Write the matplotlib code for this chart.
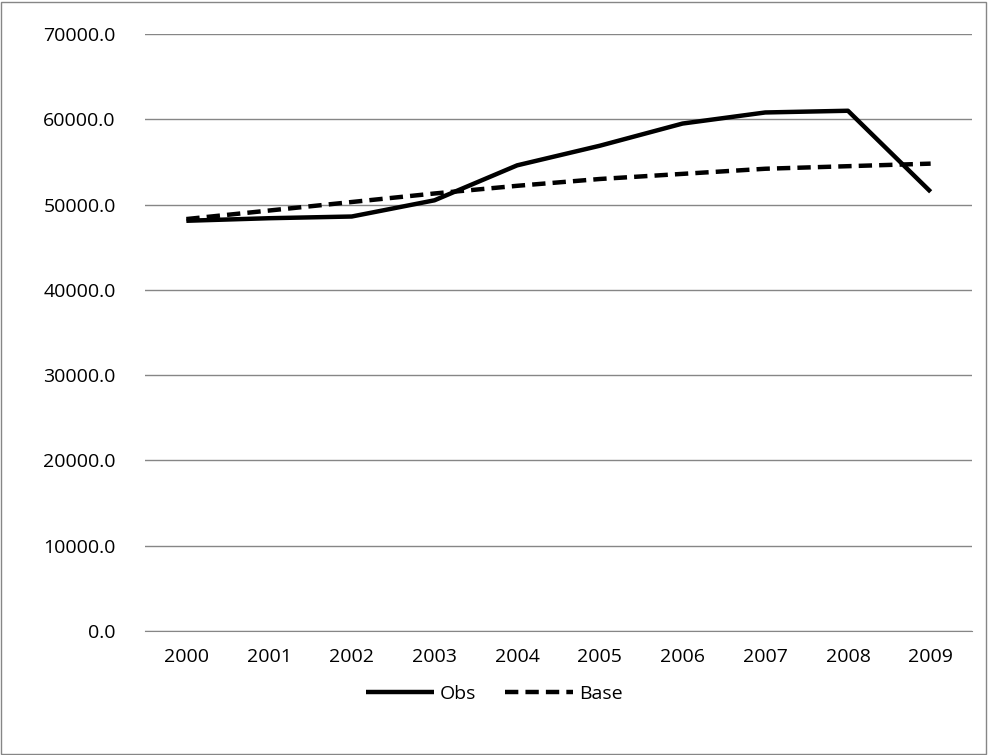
import matplotlib.pyplot as plt
from matplotlib.patches import Rectangle

years = ["2000", "2001", "2002", "2003", "2004", "2005", "2006", "2007", "2008", "2009"]
obs = [48100, 48400, 48600, 50500, 54600, 56900, 59500, 60800, 61000, 51500]
base = [48300, 49300, 50300, 51300, 52200, 53000, 53600, 54200, 54500, 54800]

plt.rcParams["font.family"] = ["Open Sans", "DejaVu Sans"]
fig = plt.figure(figsize=(9.88, 7.55), dpi=100)
ax = fig.add_axes([145 / 988, 1 - 631 / 755, (972 - 145) / 988, (631 - 34) / 755])

x = range(len(years))
ax.plot(x, obs, color="black", lw=3.2, label="Obs", solid_capstyle="butt")
ax.plot(x, base, color="black", lw=3.2, ls=(0, (3, 1.6)), label="Base")

ax.set_xlim(-0.5, len(years) - 0.5)
ax.set_ylim(0, 70000)
ax.set_yticks(range(0, 70001, 10000))
ax.set_yticklabels([f"{v:.1f}" for v in range(0, 70001, 10000)])
ax.set_xticks(list(x))
ax.set_xticklabels(years)
ax.grid(axis="y", color="#868686", lw=1)
ax.set_axisbelow(True)
for s in ["top", "right", "left"]:
    ax.spines[s].set_visible(False)
ax.spines["bottom"].set_color("#868686")
ax.tick_params(axis="both", length=0, labelsize=14, pad=12)
ax.tick_params(axis="y", pad=21)

fig.legend(loc="center", bbox_to_anchor=(0.5, 1 - 694 / 755), ncol=2, frameon=False,
           fontsize=14, handlelength=3.5, columnspacing=1.5, handletextpad=0.3)
fig.patches.append(Rectangle((0.001, 0.001), 0.997, 0.997, transform=fig.transFigure,
                             fill=False, edgecolor="#868686", lw=1))
fig.savefig("out.png", dpi=100)
